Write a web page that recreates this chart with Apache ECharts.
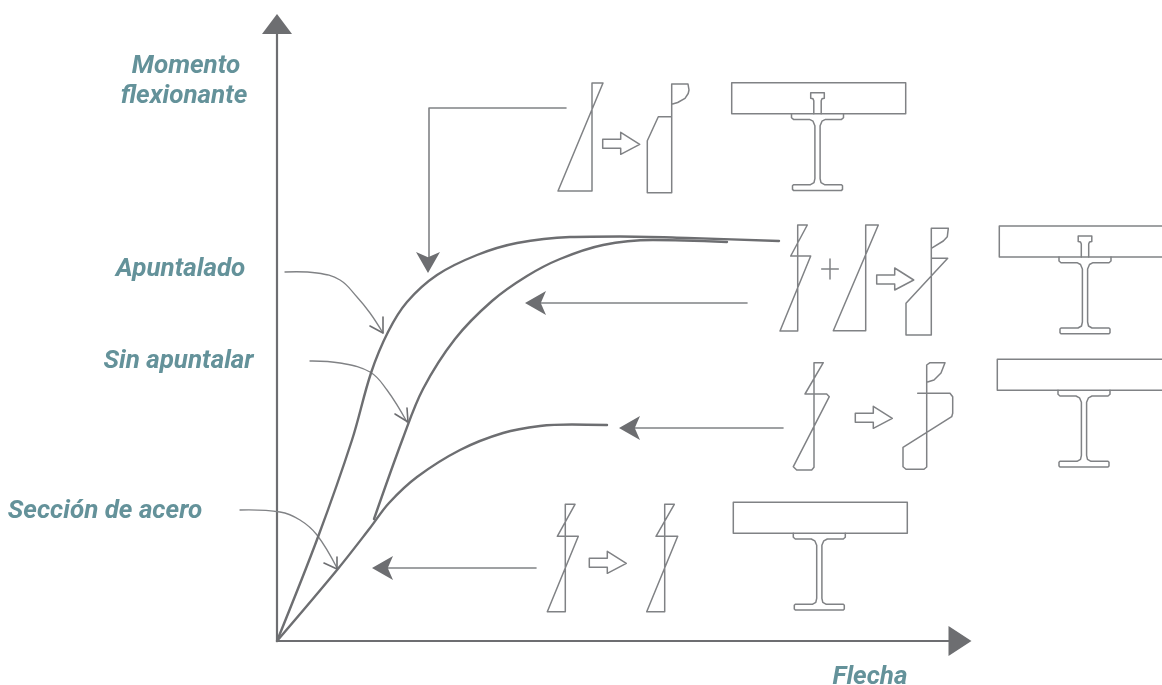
<!DOCTYPE html>
<html>
<head>
<meta charset="utf-8">
<style>
  html, body { margin: 0; padding: 0; background: #fff; }
  #chart { width: 1162px; height: 685px; }
</style>
<script src="https://cdn.jsdelivr.net/npm/echarts@6/dist/echarts.min.js"></script>
</head>
<body>
<div id="chart"></div>
<script>
// curvas momento-flecha, [flecha, momento]
const apuntalado = [[0, 0], [41, 104], [75, 201], [94, 268], [111, 309], [130, 339], [160, 366], [200, 386], [240, 398], [293, 404], [343, 404.5], [410, 403], [502, 400]]
const sinApuntalar = [[97, 122], [126, 203], [146, 252], [178, 302], [215, 340], [250, 365], [283, 382], [326, 396], [376, 401], [450, 399]]
const seccionAcero = [[0, 0], [60, 71], [93, 113], [112, 138], [140, 164], [183, 191], [226, 208], [263, 215], [295, 216.5], [330, 216]]

// flechas rectas que salen de cada seccion
const leadLines = [
  [[289, 533], [152, 533], [152, 379]],
  [[470, 338], [263, 338]],
  [[506, 213], [355, 213]],
  [[259, 73], [108, 73]]
]
// punta rellena: x, y, giro
const leadHeads = [[151, 368, 180], [248, 338, 90], [342, 213, 90], [95, 73, 90]]

// flechas curvas de las etiquetas
const calloutLines = [
  [[8, 369], [40, 368], [63, 361], [80, 344], [93, 328], [106, 308]],
  [[33, 280], [63, 278], [93, 269], [110, 251], [130, 219]],
  [[-37, 131], [3, 129], [23, 121], [40, 106], [60, 73]]
]
const calloutHeads = [
  [[106, 324], [106, 308], [93, 315]],
  [[130, 233], [131, 219], [118, 227]],
  [[60, 84], [60, 72], [47, 78]]
]

// diagramas de tensiones, [dx, dy] hacia abajo desde su ancla
const row1Stress = [[0, 0], [11, 0], [-34, 108], [0, 108], [0, 0]]
const row1Result = [[0, 20.3], [6, 18.5], [13.3, 14.3], [16.5, 9.5], [17.3, 6], [16.3, 0], [0, 0], [0, 108.7], [-24.4, 108.7], [-24.4, 56.7], [-13.4, 32.7], [0, 32.7]]
const row2StressA = [[0, 0], [9.6, 0], [-7, 31], [13, 31], [-17.7, 106], [0, 106], [0, 0]]
const row2StressB = [[0, 0], [12.6, 0], [-32.4, 105.7], [0, 105.7], [0, 0]]
const row2Result = [[0, 20], [12, 12.7], [16, 8.4], [17, 0], [0, 0], [0, 106.7], [-25.3, 106.7], [-25.3, 75], [16.4, 30], [0, 30]]
const row3Stress = [[0, 0], [9.3, 0], [-9, 31.3], [12.7, 31.3], [15.3, 34], [-19, 100.6], [-20.7, 104], [-17.3, 107.3], [-2.3, 107.3], [0, 104.6], [0, 0]]
const row3Result = [[0, 19.6], [7.3, 17.3], [14.3, 10.3], [18.3, 0], [3.3, 0], [0, 2.3], [0, 104.3], [-2.7, 106.6], [-20.7, 106.6], [-23.7, 104], [-23.7, 84.6], [25, 54], [26, 50.6], [26, 34], [23.3, 30.6], [-9, 30.6]]
const row4StressA = [[0, 0], [9.7, 0], [-8, 32], [13, 32], [-18, 107.4], [0, 107.4], [0, 0]]
const row4StressB = [[0, 0], [9.6, 0], [-8.7, 32], [13, 32], [-18, 107.4], [0, 107.4], [0, 0]]
const plusH = [[-8.3, 0], [8.3, 0]]
const plusV = [[0, -10], [0, 10]]

const stressShapes = [
  [row1Stress, 315, 558],
  [row1Result, 394.7, 557],
  [row2StressA, 520.7, 416],
  [row2StressB, 588.7, 416],
  [row2Result, 654.3, 412.7],
  [row3Stress, 537, 278.3],
  [row3Result, 649.7, 278.3],
  [row4StressA, 288.3, 136.7],
  [row4StressB, 387.7, 136.7],
  [plusH, 553, 372],
  [plusV, 553, 372]
]

// flecha hueca entre diagramas
const hollowArrow = [[0, 0], [18, 0], [18, -7], [37, 5], [18, 15], [18, 9], [0, 9], [0, 0]]
const hollowAnchors = [[325.7, 501.7], [599.7, 366], [578.3, 227.7], [312.3, 82.7]]

// losa, perfil en I (mitad izquierda) y conector
const slab = [[0, 0], [174, 0], [174, 31], [0, 31], [0, 0]]
const beamHalf = [[-26, 0], [-26, 4], [-24, 5.7], [-8, 5.7], [-4.5, 7.5], [-2.6, 12], [-2.6, 65], [-3.5, 69], [-7, 71], [-24, 71], [-25, 72], [-25, 75.7], [-24, 76.7]]
const stud = [[-3.7, 0], [-3.7, -13], [-4.5, -15], [-6.8, -15.5], [-6.8, -21], [6.8, -21], [6.8, -15.5], [4.5, -15], [3.7, -13], [3.7, 0]]
const slabAnchors = [[454.7, 558.3], [722.3, 415], [720.3, 281.7], [456.3, 138.7]]
const beamCentres = [540.5, 808, 807, 542.3]
const studRows = [0, 1]

const labelTexts = ['Momento', 'flexionante', 'Apuntalado', 'Sin apuntalar', 'Sección de acero', 'Flecha']
const labelPoints = [[-91, 575], [-93, 545], [-96.5, 372], [-98.5, 280], [-172, 130], [593, -36]]

const dark = '#6d6e71'
const mid = '#808285'
const teal = '#64929a'

// pasa de coordenadas locales a las de los ejes
function place(points, x0, y0) {
  return points.map((p) => [x0 + p[0], y0 - p[1]])
}

// la serie line se salta los tramos de menos de 2px, asi que las formas con esquinas pequeñas van como custom
function outline(data, width, color, smooth) {
  return {
    type: 'custom',
    xAxisIndex: 1,
    yAxisIndex: 1,
    data: data,
    encode: { x: 0, y: 1 },
    clip: false,
    silent: true,
    renderItem: (params, api) => {
      if (params.dataIndex !== 0) {
        return
      }
      return {
        type: 'polyline',
        shape: { points: data.map((p) => api.coord(p)), smooth: smooth || 0 },
        style: { fill: null, stroke: color, lineWidth: width, lineCap: 'round', lineJoin: 'round' },
      }
    },
  }
}

function curve(data) {
  return {
    type: 'line',
    xAxisIndex: 1,
    yAxisIndex: 1,
    data: data,
    symbol: 'none',
    clip: false,
    silent: true,
    smooth: 0.34,
    lineStyle: { color: dark, width: 2.4, cap: 'round' },
  }
}

const series = []

series.push(curve(apuntalado))
series.push(curve(sinApuntalar))
series.push(curve(seccionAcero))

leadLines.forEach((item) => series.push(outline(item, 1.6, mid)))
calloutLines.forEach((item) => series.push(outline(item, 1.3, mid, 0.4)))
calloutHeads.forEach((item) => series.push(outline(item, 1.6, dark)))

stressShapes.forEach((item) => {
  series.push(outline(place(item[0], item[1], item[2]), 1.5, mid))
})
hollowAnchors.forEach((item) => {
  series.push(outline(place(hollowArrow, item[0], item[1]), 1.5, mid))
})

slabAnchors.forEach((item, i) => {
  series.push(outline(place(slab, item[0], item[1]), 1.5, mid))
  const right = beamHalf.slice().reverse().map((p) => [-p[0], p[1]])
  const bottomY = item[1] - 31
  series.push(outline(place(beamHalf.concat(right), beamCentres[i], bottomY), 1.5, mid))
  if (studRows.includes(i)) {
    series.push(outline(place(stud, beamCentres[i], bottomY), 1.5, mid))
  }
})

series.push({
  type: 'scatter',
  xAxisIndex: 1,
  yAxisIndex: 1,
  data: leadHeads.map((h) => ({ value: [h[0], h[1]], symbolRotate: h[2] })),
  symbol: 'arrow',
  symbolSize: [18, 21],
  clip: false,
  silent: true,
  itemStyle: { color: dark, opacity: 1 },
})

series.push({
  type: 'scatter',
  xAxisIndex: 1,
  yAxisIndex: 1,
  data: labelPoints.map((p, i) => ({ value: p, name: labelTexts[i] })),
  symbolSize: 1,
  clip: false,
  silent: true,
  itemStyle: { color: 'transparent', opacity: 1 },
  label: {
    show: true,
    position: 'inside',
    formatter: (arg) => arg.name,
    color: teal,
    fontFamily: 'Roboto',
    fontStyle: 'italic',
    fontWeight: 700,
    fontSize: 26,
    align: 'center',
    verticalAlign: 'middle',
  },
  labelLayout: { hideOverlap: false },
})

const axisShared = {
  type: 'value',
  min: 0,
  splitLine: { show: false },
  axisTick: { show: false },
  axisLabel: { show: false },
  axisLine: {
    show: true,
    symbol: ['none', 'triangle'],
    lineStyle: { color: dark, width: 2.2 },
  },
}

// eje oculto para los dibujos, misma escala y mismo origen que los ejes visibles
const hiddenAxis = { type: 'value', show: false, splitLine: { show: false } }

const chart = echarts.init(document.getElementById('chart'))
chart.setOption({
  animation: false,
  backgroundColor: '#fff',
  grid: [
    { left: 277, right: 202, top: 24, bottom: 44 },
    { left: 0, right: 0, top: 0, bottom: 0 },
  ],
  xAxis: [
    Object.assign({}, axisShared, {
      gridIndex: 0,
      max: 683,
      axisLine: Object.assign({}, axisShared.axisLine, { symbolSize: [30, 23] }),
    }),
    Object.assign({}, hiddenAxis, { gridIndex: 1, min: -277, max: 885 }),
  ],
  yAxis: [
    Object.assign({}, axisShared, {
      gridIndex: 0,
      max: 617,
      axisLine: Object.assign({}, axisShared.axisLine, { symbolSize: [30, 20] }),
    }),
    Object.assign({}, hiddenAxis, { gridIndex: 1, min: -44, max: 641 }),
  ],
  series: series,
})
</script>
</body>
</html>
